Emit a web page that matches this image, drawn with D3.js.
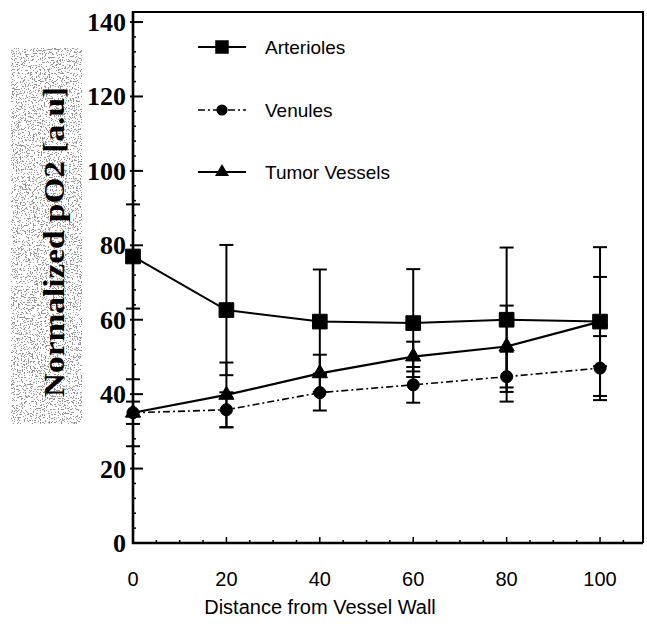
<!DOCTYPE html>
<html>
<head>
<meta charset="utf-8">
<script src="https://cdn.jsdelivr.net/npm/d3@7"></script>
<style>
  body { margin: 0; background: #fff; }
  svg { display: block; }
</style>
</head>
<body>
<svg id="chart"></svg>
<script>
// values
var distance = [0, 20, 40, 60, 80, 100];
var arterioles = [77, 62.6, 59.5, 59.1, 60, 59.5];
var arteriolesErr = [14, 17.5, 14, 14.5, 19.4, 20];
var venules = [35, 35.8, 40.4, 42.5, 44.7, 47];
var venulesErr = [3, 4.7, 4.8, 4.8, 6.7, 8.6];
var tumor = [35, 39.8, 45.6, 50.1, 52.8, 59.5];
var tumorErr = [9, 8.7, 5, 4, 11, 12];
var xTicks = [0, 20, 40, 60, 80, 100];
var yTicks = [0, 20, 40, 60, 80, 100, 120, 140];
var seriesNames = ['Arterioles', 'Venules', 'Tumor Vessels'];

var width = 647, height = 630;
var svg = d3.select('#chart').attr('width', width).attr('height', height);

var x = d3.scaleLinear().domain([0, 109.2]).range([133, 643]);
var y = d3.scaleLinear().domain([0, 142.7]).range([543, 12]);

// speckled background behind the y title
var defs = svg.append('defs');
var f = defs.append('filter').attr('id', 'speckle')
  .attr('x', 0).attr('y', 0).attr('width', 1).attr('height', 1);
f.append('feTurbulence').attr('type', 'fractalNoise')
  .attr('baseFrequency', 0.75).attr('numOctaves', 2).attr('seed', 11);
f.append('feColorMatrix').attr('type', 'matrix')
  .attr('values', '0 0 0 0 0.3  0 0 0 0 0.3  0 0 0 0 0.3  1 0 0 0 0');
var ct = f.append('feComponentTransfer');
ct.append('feFuncA').attr('type', 'discrete')
  .attr('tableValues', '0 0 0 0 0 0 0 0 0 0 0 0 1 1 1 1 1 1 1 1');

svg.append('rect').attr('x', 11).attr('y', 48).attr('width', 71).attr('height', 376)
  .attr('fill', '#fff').attr('filter', 'url(#speckle)');

svg.append('text')
  .attr('transform', 'translate(64,397) rotate(-90)')
  .attr('font-family', '"Liberation Serif", "Times New Roman", serif')
  .attr('font-weight', 'bold')
  .attr('font-size', 30)
  .attr('textLength', 310)
  .attr('lengthAdjust', 'spacingAndGlyphs')
  .attr('fill', '#000')
  .text('Normalized pO2 [a.u]');

// frame
var x0 = x.range()[0], x1 = x.range()[1], yb = y.range()[0], yt = y.range()[1];
svg.append('path')
  .attr('d', 'M' + x0 + ',' + yt + 'H' + x1 + 'V' + yb)
  .attr('fill', 'none').attr('stroke', '#000').attr('stroke-width', 2);
svg.append('path')
  .attr('d', 'M' + x0 + ',' + (yt - 1) + 'V' + yb + 'H' + x1)
  .attr('fill', 'none').attr('stroke', '#000').attr('stroke-width', 2.6);

// y ticks
var yMinor = d3.range(4, 142, 4).filter(function(v){ return v % 20 !== 0; });
svg.append('g').selectAll('line').data(yMinor).enter().append('line')
  .attr('x1', x0).attr('x2', x0 + 3)
  .attr('y1', function(d){ return y(d); }).attr('y2', function(d){ return y(d); })
  .attr('stroke', '#000').attr('stroke-width', 1.5);
svg.append('g').selectAll('line').data(yTicks.slice(1)).enter().append('line')
  .attr('x1', x0 - 3).attr('x2', x0 + 10)
  .attr('y1', function(d){ return y(d); }).attr('y2', function(d){ return y(d); })
  .attr('stroke', '#000').attr('stroke-width', 2);
svg.append('g').selectAll('text').data(yTicks).enter().append('text')
  .attr('x', x0 - 7)
  .attr('y', function(d){ return y(d) + 9; })
  .attr('text-anchor', 'end')
  .attr('font-family', '"Liberation Serif", "Times New Roman", serif')
  .attr('font-weight', 'bold')
  .attr('font-size', 26)
  .text(function(d){ return d; });

// x ticks
var xMinor = d3.range(5, 109, 5);
svg.append('g').selectAll('line').data(xMinor).enter().append('line')
  .attr('x1', function(d){ return x(d); }).attr('x2', function(d){ return x(d); })
  .attr('y1', yb).attr('y2', function(d){ return d % 20 === 0 ? yb - 6 : yb - 3; })
  .attr('stroke', '#000').attr('stroke-width', 1.5);
svg.append('g').selectAll('text').data(xTicks).enter().append('text')
  .attr('x', function(d){ return x(d); })
  .attr('y', 586)
  .attr('text-anchor', 'middle')
  .attr('font-family', '"Liberation Sans", Arial, sans-serif')
  .attr('font-size', 20)
  .text(function(d){ return d; });
svg.append('text')
  .attr('x', 320).attr('y', 614)
  .attr('text-anchor', 'middle')
  .attr('font-family', '"Liberation Sans", Arial, sans-serif')
  .attr('font-size', 20)
  .text('Distance from Vessel Wall');

// series
var series = [
  {name: seriesNames[0], vals: arterioles, err: arteriolesErr, shape: d3.symbolSquare, size: 215, dash: null, lw: 2},
  {name: seriesNames[1], vals: venules, err: venulesErr, shape: d3.symbolCircle, size: 115, dash: '7,3,2,3', lw: 1.6},
  {name: seriesNames[2], vals: tumor, err: tumorErr, shape: d3.symbolTriangle, size: 100, dash: null, lw: 2.2}
];

var errG = svg.append('g');
series.forEach(function(s){
  var pts = distance.map(function(d, i){ return {d: d, v: s.vals[i], e: s.err[i]}; });
  var g = errG.append('g').attr('stroke', '#000').attr('stroke-width', 2);
  g.selectAll('line.bar').data(pts).enter().append('line')
    .attr('x1', function(p){ return x(p.d); }).attr('x2', function(p){ return x(p.d); })
    .attr('y1', function(p){ return y(p.v - p.e); }).attr('y2', function(p){ return y(p.v + p.e); });
  g.selectAll('line.hi').data(pts).enter().append('line')
    .attr('x1', function(p){ return x(p.d) - 7; }).attr('x2', function(p){ return x(p.d) + 7; })
    .attr('y1', function(p){ return y(p.v + p.e); }).attr('y2', function(p){ return y(p.v + p.e); });
  g.selectAll('line.lo').data(pts).enter().append('line')
    .attr('x1', function(p){ return x(p.d) - 7; }).attr('x2', function(p){ return x(p.d) + 7; })
    .attr('y1', function(p){ return y(p.v - p.e); }).attr('y2', function(p){ return y(p.v - p.e); });
});

var line = d3.line().x(function(p){ return x(p.d); }).y(function(p){ return y(p.v); });
series.forEach(function(s){
  var pts = distance.map(function(d, i){ return {d: d, v: s.vals[i]}; });
  svg.append('path').datum(pts)
    .attr('d', line)
    .attr('fill', 'none').attr('stroke', '#000')
    .attr('stroke-width', s.lw)
    .attr('stroke-dasharray', s.dash);
});
series.forEach(function(s){
  var pts = distance.map(function(d, i){ return {d: d, v: s.vals[i]}; });
  svg.append('g').selectAll('path').data(pts).enter().append('path')
    .attr('d', d3.symbol().type(s.shape).size(s.size))
    .attr('transform', function(p){ return 'translate(' + x(p.d) + ',' + y(p.v) + ')'; })
    .attr('fill', '#000').attr('stroke', '#000').attr('stroke-width', 1);
});

// legend
var legendY = [47, 110, 172];
var lg = svg.append('g');
series.forEach(function(s, i){
  var ly = legendY[i];
  lg.append('line').attr('x1', 198).attr('x2', 246).attr('y1', ly).attr('y2', ly)
    .attr('stroke', '#000').attr('stroke-width', s.lw).attr('stroke-dasharray', s.dash);
  lg.append('path').attr('d', d3.symbol().type(s.shape).size(s.size * 0.85))
    .attr('transform', 'translate(222,' + ly + ')').attr('fill', '#000');
  lg.append('text').attr('x', 265).attr('y', ly + 7)
    .attr('font-family', '"Liberation Sans", Arial, sans-serif')
    .attr('font-size', 19)
    .text(s.name);
});
</script>
</body>
</html>
